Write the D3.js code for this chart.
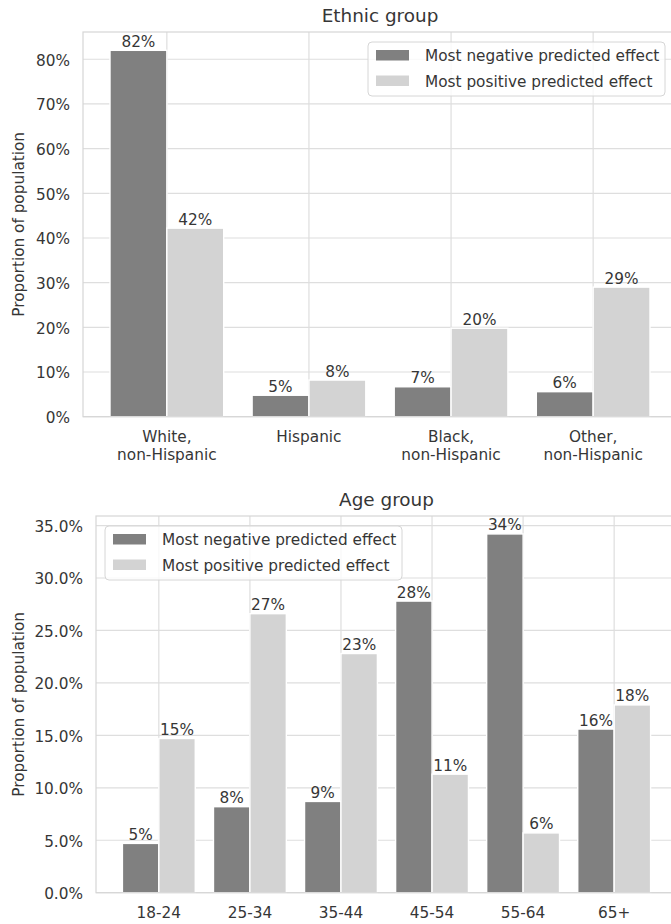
<!DOCTYPE html>
<html>
<head>
<meta charset="utf-8">
<script src="https://cdn.jsdelivr.net/npm/d3@7"></script>
<style>
  body { margin: 0; background: #fff; }
  svg { display: block; font-family: "DejaVu Sans", sans-serif; }
  .tick-label, .bar-label, .legend-label { font-size: 15.3px; fill: #363636; }
  .title { font-size: 18.4px; fill: #363636; }
</style>
</head>
<body>
<svg class="chart" width="671" height="924"></svg>
<script>
// series names
const seriesNames = ["Most negative predicted effect", "Most positive predicted effect"];
const seriesColors = ["#808080", "#d3d3d3"];

// ethnic group panel
const ethnicGroups = ["White,\nnon-Hispanic", "Hispanic", "Black,\nnon-Hispanic", "Other,\nnon-Hispanic"];
const ethnicNegative = [0.820, 0.048, 0.067, 0.056];
const ethnicPositive = [0.422, 0.082, 0.198, 0.290];
const ethnicTicks = [0, 0.1, 0.2, 0.3, 0.4, 0.5, 0.6, 0.7, 0.8];

// age group panel
const ageGroups = ["18-24", "25-34", "35-44", "45-54", "55-64", "65+"];
const ageNegative = [0.047, 0.082, 0.087, 0.278, 0.342, 0.156];
const agePositive = [0.147, 0.266, 0.228, 0.113, 0.057, 0.179];
const ageTicks = [0, 0.05, 0.10, 0.15, 0.20, 0.25, 0.30, 0.35];

const svg = d3.select("svg.chart");
const gridColor = "#dedede";

function drawPanel(opts) {
    let {cats, neg, pos, ticks, tickFmt, title, box, outerPad, legendPos} = opts;
    let g = svg.append("g");

    let yMax = d3.max(neg.concat(pos)) * 1.05;
    let x = d3.scaleBand()
        .domain(cats)
        .range([box.left, box.right])
        .paddingInner(0.2)
        .paddingOuter(outerPad);
    let xs = d3.scaleBand()
        .domain([0, 1])
        .range([0, x.bandwidth()]);
    let y = d3.scaleLinear()
        .domain([0, yMax])
        .range([box.bottom, box.top]);

    // grid
    g.append("g").selectAll("line.h")
        .data(ticks)
        .join("line")
        .attr("x1", box.left).attr("x2", box.right)
        .attr("y1", d => y(d)).attr("y2", d => y(d))
        .style("stroke", gridColor).style("stroke-width", 1.2);
    g.append("g").selectAll("line.v")
        .data(cats)
        .join("line")
        .attr("x1", d => x(d) + x.bandwidth() / 2)
        .attr("x2", d => x(d) + x.bandwidth() / 2)
        .attr("y1", box.top).attr("y2", box.bottom)
        .style("stroke", gridColor).style("stroke-width", 1.2);

    // bars
    let rows = cats.map((c, i) => ({cat: c, vals: [neg[i], pos[i]]}));
    let groups = g.append("g").selectAll("g")
        .data(rows)
        .join("g")
        .attr("transform", d => "translate(" + x(d.cat) + ",0)");
    groups.selectAll("rect")
        .data(d => d.vals.map((v, k) => ({k: k, v: v})))
        .join("rect")
        .attr("x", d => xs(d.k))
        .attr("width", xs.bandwidth())
        .attr("y", d => y(d.v))
        .attr("height", d => y(0) - y(d.v))
        .style("fill", d => seriesColors[d.k])
        .style("stroke", "#fff")
        .style("stroke-width", 1.4);
    groups.selectAll("text")
        .data(d => d.vals.map((v, k) => ({k: k, v: v})))
        .join("text")
        .attr("class", "bar-label")
        .attr("x", d => xs(d.k) + xs.bandwidth() / 2)
        .attr("y", d => y(d.v) - 3.5)
        .style("text-anchor", "middle")
        .text(d => d3.format(".0%")(d.v));

    // spines
    g.append("rect")
        .attr("x", box.left).attr("y", box.top)
        .attr("width", box.right - box.left)
        .attr("height", box.bottom - box.top)
        .style("fill", "none")
        .style("stroke", "#d6d6d6")
        .style("stroke-width", 1.2);

    // y ticks
    g.append("g").selectAll("text")
        .data(ticks)
        .join("text")
        .attr("class", "tick-label")
        .attr("x", box.left - 13)
        .attr("y", d => y(d))
        .attr("dy", "0.42em")
        .style("text-anchor", "end")
        .text(d => tickFmt(d));

    // x ticks
    let xl = g.append("g").selectAll("text")
        .data(cats)
        .join("text")
        .attr("class", "tick-label")
        .attr("x", d => x(d) + x.bandwidth() / 2)
        .attr("y", box.bottom + 25)
        .style("text-anchor", "middle");
    xl.selectAll("tspan")
        .data(d => d.split("\n"))
        .join("tspan")
        .attr("x", function() { return d3.select(this.parentNode).attr("x"); })
        .attr("dy", (d, i) => i === 0 ? 0 : 18)
        .text(d => d);

    // titles
    g.append("text")
        .attr("class", "title")
        .attr("x", (box.left + box.right) / 2)
        .attr("y", box.top - 10)
        .style("text-anchor", "middle")
        .text(title);

    g.append("text")
        .attr("class", "tick-label")
        .attr("transform", "translate(23.5," + ((box.top + box.bottom) / 2) + ") rotate(-90)")
        .style("text-anchor", "middle")
        .text("Proportion of population");

    // legend
    let lg = g.append("g")
        .attr("transform", "translate(" + legendPos[0] + "," + legendPos[1] + ")");
    lg.append("rect")
        .attr("width", 297).attr("height", 54)
        .attr("rx", 4)
        .style("fill", "#fff").style("fill-opacity", 0.8)
        .style("stroke", "#d6d6d6").style("stroke-width", 1);
    seriesNames.forEach((name, k) => {
        lg.append("rect")
            .attr("x", 8).attr("y", 8 + k * 25.5)
            .attr("width", 33).attr("height", 10.5)
            .style("fill", seriesColors[k]);
        lg.append("text")
            .attr("class", "legend-label")
            .attr("x", 57).attr("y", 13.5 + k * 25.5)
            .attr("dy", "0.36em")
            .text(name);
    });
}

drawPanel({
    cats: ethnicGroups, neg: ethnicNegative, pos: ethnicPositive,
    ticks: ethnicTicks, tickFmt: d3.format(".0%"), title: "Ethnic group",
    box: {left: 83, right: 677, top: 32, bottom: 416.7},
    outerPad: 0.19, legendPos: [368, 42]
});

drawPanel({
    cats: ageGroups, neg: ageNegative, pos: agePositive,
    ticks: ageTicks, tickFmt: d3.format(".1%"), title: "Age group",
    box: {left: 96, right: 677, top: 516, bottom: 892.7},
    outerPad: 0.29, legendPos: [105, 526]
});
</script>
</body>
</html>
